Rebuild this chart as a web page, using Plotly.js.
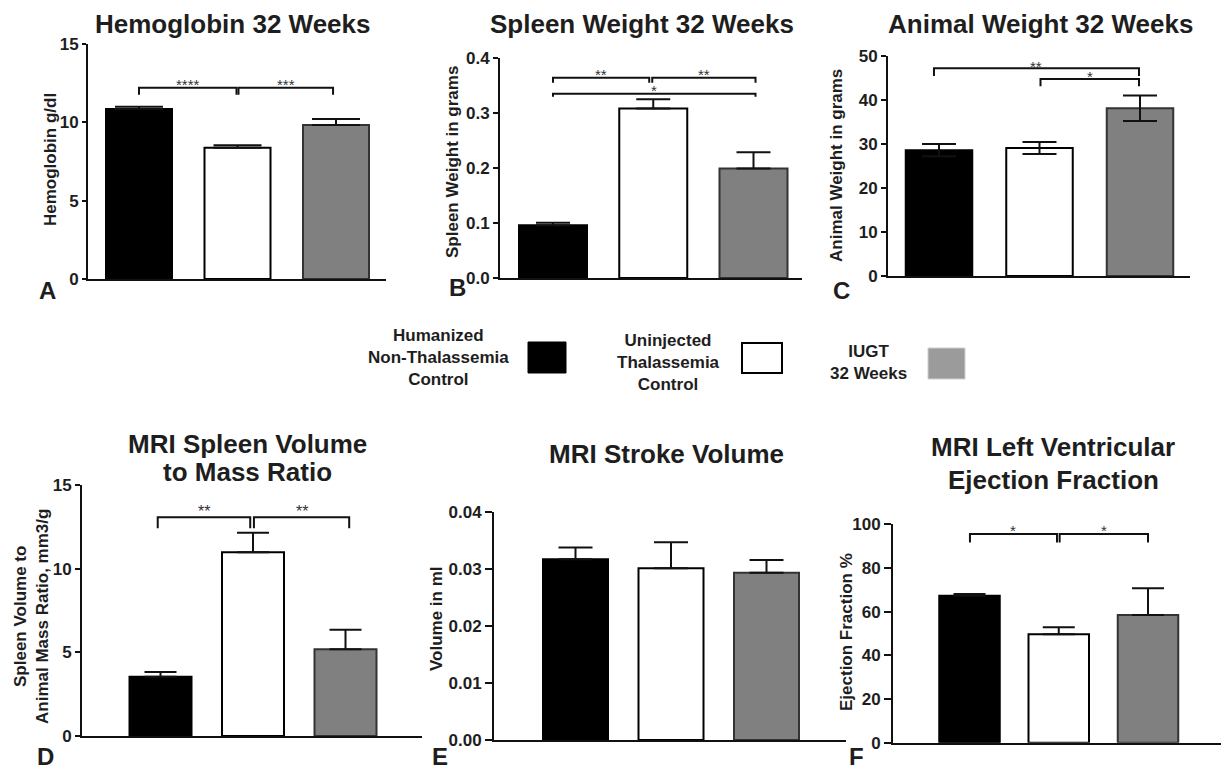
<!DOCTYPE html>
<html><head><meta charset="utf-8">
<script src="https://cdn.plot.ly/plotly-3.0.1.min.js"></script>
<style>html,body{margin:0;padding:0;background:#fff}#chart{width:1221px;height:773px}</style>
</head><body><div id="chart"></div>
<script>
// ---------------- DATA ----------------
const categories = ['Humanized Non-Thalassemia Control', 'Uninjected Thalassemia Control', 'IUGT 32 Weeks'];

const hemoglobin = [10.85, 8.38, 9.83];
const hemoglobinErr = [0.15, 0.15, 0.38];
const hemoglobinSig = [[0, 1, '****'], [1, 2, '***']];
const hemoglobinTicks = [0, 5, 10, 15];

const spleenWeight = [0.096, 0.308, 0.199];
const spleenWeightErr = [0.0045, 0.017, 0.0295];
const spleenWeightSig = [[0, 1, '**'], [1, 2, '**'], [0, 2, '*']];
const spleenWeightTicks = [0, 0.1, 0.2, 0.3, 0.4];

const animalWeight = [28.6, 29.1, 38.1];
const animalWeightErr = [1.4, 1.35, 2.9];
const animalWeightSig = [[0, 2, '**'], [1, 2, '*']];
const animalWeightTicks = [0, 10, 20, 30, 40, 50];

const spleenRatio = [3.54, 10.98, 5.18];
const spleenRatioErr = [0.29, 1.17, 1.17];
const spleenRatioSig = [[0, 1, '**'], [1, 2, '**']];
const spleenRatioTicks = [0, 5, 10, 15];

const strokeVolume = [0.03175, 0.03017, 0.0294];
const strokeVolumeErr = [0.00205, 0.00456, 0.0022];
const strokeVolumeSig = [];
const strokeVolumeTicks = [0, 0.01, 0.02, 0.03, 0.04];

const ejection = [67.3, 49.6, 58.5];
const ejectionErr = [0.8, 3.3, 12.2];
const ejectionSig = [[0, 1, '*'], [1, 2, '*']];
const ejectionTicks = [0, 20, 40, 60, 80, 100];

// ---------------- LAYOUT / STYLE ----------------
const W = 1221, H = 773;
const px = x => x / W, py = y => 1 - y / H;
const FONT = 'Liberation Sans, Arial, Helvetica, sans-serif';
const TXT = '#1e1e1e', LINE = '#111';
const barFill = ['#000000', '#ffffff', '#808080'];
const barLine = ['#000000', '#000000', '#333333'];

// letter: [text, x, y, anchor]
const panels = [
  {values: hemoglobin, err: hemoglobinErr, sym: false, ticks: hemoglobinTicks, fmt: '', sig: hemoglobinSig,
   ymax: 15, axL: 88, axR: 386, c0: 139, sp: 98.5, bw: 66, yTop: 44, yBot: 279, cap: 24, ticklen: 4,
   geo: [[0, -0.01, 12.2, 7], [0.01, -0.03, 12.2, 7]], starOff: 6, starSize: 15,
   title: [['Hemoglobin 32 Weeks', 233, 24]], ylab: ['Hemoglobin g/dl', 50, 160], letter: ['A', 47, 290, 'middle']},
  {values: spleenWeight, err: spleenWeightErr, sym: false, ticks: spleenWeightTicks, fmt: '.1f', sig: spleenWeightSig,
   ymax: 0.4, axL: 500, axR: 802, c0: 553, sp: 100.25, bw: 68, yTop: 58, yBot: 278, cap: 17, ticklen: 5,
   geo: [[0, -0.04, 0.364, 5], [-0.01, 0.02, 0.364, 5], [0, 0.02, 0.335, 3]], starOff: 6, starSize: 15,
   title: [['Spleen Weight 32 Weeks', 642, 24]], ylab: ['Spleen Weight in grams', 452, 162], letter: ['B', 457, 287, 'middle']},
  {values: animalWeight, err: animalWeightErr, sym: true, ticks: animalWeightTicks, fmt: '', sig: animalWeightSig,
   ymax: 50, axL: 888, axR: 1190, c0: 939, sp: 100.5, bw: 66.5, yTop: 56, yBot: 276, cap: 17, ticklen: 5,
   geo: [[-0.05, -0.01, 47.2, 7.7], [0.01, -0.01, 44.8, 7.3]], starOff: 5, starSize: 15,
   title: [['Animal Weight 32 Weeks', 1040, 24]], ylab: ['Animal Weight in grams', 837, 165], letter: ['C', 841, 290, 'middle']},
  {values: spleenRatio, err: spleenRatioErr, sym: false, ticks: spleenRatioTicks, fmt: '', sig: spleenRatioSig,
   ymax: 15, axL: 82, axR: 422, c0: 160.5, sp: 92.5, bw: 62, yTop: 485, yBot: 736, cap: 16, ticklen: 5,
   geo: [[-0.03, -0.03, 13.07, 11], [0.01, 0.04, 13.07, 11]], starOff: 9, starSize: 16,
   title: [['MRI Spleen Volume', 248, 443.5], ['to Mass Ratio', 248, 471.5]],
   ylab: ['Spleen Volume to<br>Animal Mass Ratio, mm3/g', 31, 617], letter: ['D', 45, 772, 'bottom']},
  {values: strokeVolume, err: strokeVolumeErr, sym: false, ticks: strokeVolumeTicks, fmt: '.2f', sig: strokeVolumeSig,
   ymax: 0.04, axL: 494, axR: 846, c0: 575.5, sp: 95.5, bw: 65, yTop: 512.3, yBot: 740, cap: 17, ticklen: 7,
   geo: [], starOff: 6, starSize: 15,
   title: [['MRI Stroke Volume', 666, 454.5]], ylab: ['Volume in ml', 436, 619], letter: ['E', 440, 772, 'bottom']},
  {values: ejection, err: ejectionErr, sym: false, ticks: ejectionTicks, fmt: '', sig: ejectionSig,
   ymax: 100, axL: 893, axR: 1221, c0: 969.5, sp: 89.25, bw: 60.5, yTop: 524.3, yBot: 742.7, cap: 16, ticklen: 7,
   geo: [[0.005, -0.02, 95.6, 8.7], [0.01, 0, 95.6, 8.7]], starOff: 6, starSize: 15,
   title: [['MRI Left Ventricular', 1053, 447], ['Ejection Fraction', 1053, 480]],
   ylab: ['Ejection Fraction %', 846, 632], letter: ['F', 856, 772, 'bottom']}
];

const traces = [], shapes = [], annotations = [];
const layout = {
  width: W, height: H, margin: {l: 0, r: 0, t: 0, b: 0},
  paper_bgcolor: '#fff', plot_bgcolor: 'rgba(0,0,0,0)', showlegend: false,
  font: {family: FONT, color: TXT}
};

panels.forEach((p, i) => {
  const n = i === 0 ? '' : String(i + 1);
  const xn = 'x' + n, yn = 'y' + n;
  layout['xaxis' + n] = {
    domain: [px(p.axL), px(p.axR)], anchor: yn, type: 'category',
    range: [(p.axL - p.c0) / p.sp, (p.axR - p.c0) / p.sp],
    showline: true, linewidth: 2, linecolor: LINE, showticklabels: false, ticks: '',
    showgrid: false, zeroline: false, fixedrange: true
  };
  layout['yaxis' + n] = {
    domain: [py(p.yBot), py(p.yTop)], anchor: xn, range: [0, p.ymax],
    tickvals: p.ticks, tickformat: p.fmt, showline: true, linewidth: 2, linecolor: LINE,
    ticks: 'outside', ticklen: p.ticklen, tickwidth: 2, tickcolor: LINE,
    tickfont: {family: FONT, size: 17, color: TXT, weight: 'bold'},
    showgrid: false, zeroline: false, fixedrange: true
  };
  traces.push({
    type: 'bar', x: categories, y: p.values, xaxis: xn, yaxis: yn,
    width: p.bw / p.sp,
    marker: {color: barFill, line: {color: barLine, width: 2}},
    error_y: {type: 'data', symmetric: false, array: p.err,
      arrayminus: p.sym ? p.err : p.err.map(() => 0),
      color: LINE, thickness: 2, width: p.cap},
    hovertemplate: '%{x}: %{y}<extra></extra>'
  });
  const perPx = p.ymax / (p.yBot - p.yTop);
  p.sig.forEach((s, k) => {
    const g = p.geo[k];
    const x0 = s[0] + g[0], x1 = s[1] + g[1], yv = g[2], yd = yv - g[3] * perPx;
    shapes.push({type: 'path', xref: xn, yref: yn,
      path: `M${x0},${yd} L${x0},${yv} L${x1},${yv} L${x1},${yd}`,
      line: {color: LINE, width: 2}});
    annotations.push({xref: xn, yref: yn, x: (x0 + x1) / 2, y: yv, text: s[2], showarrow: false,
      yanchor: 'middle', yshift: p.starOff - 3, font: {family: FONT, size: p.starSize, color: '#333'}});
  });
  p.title.forEach(t => annotations.push({xref: 'paper', yref: 'paper', x: px(t[1]), y: py(t[2]),
    text: t[0], showarrow: false, xanchor: 'center', yanchor: 'middle',
    font: {family: FONT, size: 26, color: TXT, weight: 'bold'}}));
  annotations.push({xref: 'paper', yref: 'paper', x: px(p.ylab[1]), y: py(p.ylab[2]), text: p.ylab[0],
    textangle: -90, showarrow: false, xanchor: 'center', yanchor: 'middle', align: 'center',
    font: {family: FONT, size: 17, color: TXT, weight: 'bold'}});
  annotations.push({xref: 'paper', yref: 'paper', x: px(p.letter[1]), y: py(p.letter[2]), text: p.letter[0],
    showarrow: false, xanchor: 'center', yanchor: p.letter[3],
    font: {family: FONT, size: 24, color: TXT, weight: 'bold'}});
});

// legend
const legendText = ['Humanized<br>Non-Thalassemia<br>Control', 'Uninjected<br>Thalassemia<br>Control', 'IUGT<br>32 Weeks'];
const legendPos = [[438, 358], [668, 362.5], [869, 362.5]];
const legendBox = [[528, 342, 566, 373], [742, 343, 782, 373], [928, 348, 965, 379]];
const legendFill = ['#000000', '#ffffff', '#9b9b9b'];
const legendEdge = ['#000000', '#000000', '#cfcfcf'];
legendText.forEach((t, i) => {
  annotations.push({xref: 'paper', yref: 'paper', x: px(legendPos[i][0]), y: py(legendPos[i][1]), text: t,
    showarrow: false, xanchor: 'center', yanchor: 'middle', align: 'center',
    font: {family: FONT, size: 17, color: TXT, weight: 'bold'}});
  const b = legendBox[i];
  shapes.push({type: 'rect', xref: 'paper', yref: 'paper', x0: px(b[0]), x1: px(b[2]), y0: py(b[3]), y1: py(b[1]),
    fillcolor: legendFill[i], line: {color: legendEdge[i], width: i === 1 ? 2 : 1}});
});

layout.shapes = shapes;
layout.annotations = annotations;
Plotly.newPlot('chart', traces, layout, {displayModeBar: false, staticPlot: false});
</script>
</body></html>
